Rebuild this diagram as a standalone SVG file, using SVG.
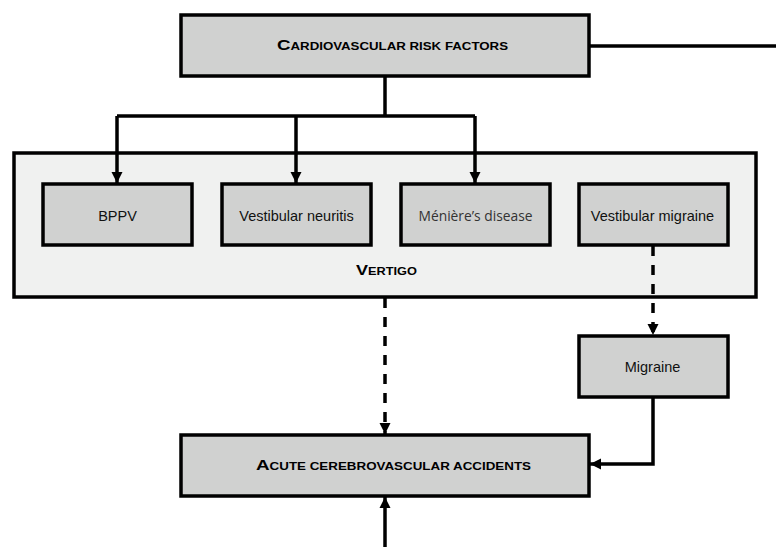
<svg xmlns="http://www.w3.org/2000/svg" width="776" height="547" viewBox="0 0 776 547">
<style>
.box{fill:#d0d1d0;stroke:#000;stroke-width:3.5}
.outer{fill:#f0f1f0;stroke:#000;stroke-width:3.5}
.lbl{font-family:"Liberation Sans",Arial,sans-serif;font-size:14.5px;fill:#111;text-anchor:middle}
.lite{font-family:"Open Sans","Liberation Sans",sans-serif;font-size:13.8px;fill:#333;text-anchor:middle}
.sc{font-family:"Liberation Sans",Arial,sans-serif;font-weight:bold;fill:#000;text-anchor:middle;font-size:11px}
.big{font-size:15.5px}
.ln{fill:none;stroke:#000;stroke-width:3.5}
.dash{fill:none;stroke:#000;stroke-width:3.5;stroke-dasharray:10 9}
</style>
<defs>
<marker id="ah" viewBox="0 0 10 10" refX="10" refY="5" markerWidth="3.2" markerHeight="3.2" orient="auto" markerUnits="strokeWidth">
<path d="M0,0 L10,5 L0,10 z" fill="#000"/>
</marker>
</defs>
<g id="vertigo">
<rect class="outer" x="14" y="153" width="742" height="144"/>
<text class="sc" x="386.5" y="275" textLength="61" lengthAdjust="spacingAndGlyphs"><tspan class="big">V</tspan>ERTIGO</text>
</g>
<g id="cv-risk">
<rect class="box" x="181" y="15" width="408" height="61"/>
<text class="sc" x="392.5" y="49.5" textLength="231" lengthAdjust="spacingAndGlyphs"><tspan class="big">C</tspan>ARDIOVASCULAR RISK FACTORS</text>
</g>
<g id="bppv">
<rect class="box" x="43" y="184" width="149" height="61"/>
<text class="lbl" x="117.5" y="220.5">BPPV</text>
</g>
<g id="neuritis">
<rect class="box" x="222" y="184" width="149" height="61"/>
<text class="lbl" x="296.5" y="220.5">Vestibular neuritis</text>
</g>
<g id="meniere">
<rect class="box" x="401" y="184" width="149" height="61"/>
<text class="lite" x="475.5" y="220.5">Ménière’s disease</text>
</g>
<g id="vest-migraine">
<rect class="box" x="579" y="184" width="149" height="61"/>
<text class="lbl" x="652.5" y="220.5">Vestibular migraine</text>
</g>
<g id="migraine">
<rect class="box" x="579" y="336" width="149" height="61"/>
<text class="lbl" x="652.5" y="372">Migraine</text>
</g>
<g id="acute">
<rect class="box" x="181" y="435" width="408" height="61"/>
<text class="sc" x="393.5" y="469.5" textLength="275" lengthAdjust="spacingAndGlyphs"><tspan class="big">A</tspan>CUTE CEREBROVASCULAR ACCIDENTS</text>
</g>
<g id="connectors">
<path class="ln" d="M589,46 H776"/>
<path class="ln" d="M385,76 V116"/>
<path class="ln" d="M117,116 H475"/>
<path class="ln" d="M117,116 V183" marker-end="url(#ah)"/>
<path class="ln" d="M296,116 V183" marker-end="url(#ah)"/>
<path class="ln" d="M475,116 V183" marker-end="url(#ah)"/>
<path class="dash" d="M653,246 V335" marker-end="url(#ah)"/>
<path class="dash" d="M385,298 V434" marker-end="url(#ah)"/>
<path class="ln" d="M653,397 V464 H590" marker-end="url(#ah)"/>
<path class="ln" d="M385,547 V497" marker-end="url(#ah)"/>
</g>
</svg>
